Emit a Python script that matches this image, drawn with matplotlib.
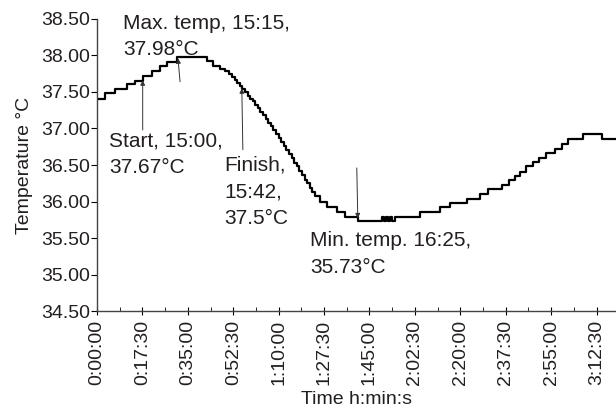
import matplotlib
matplotlib.use("Agg")
import matplotlib.pyplot as plt
from matplotlib.ticker import FuncFormatter, MultipleLocator

plt.rcParams['font.family'] = ['Liberation Sans', 'DejaVu Sans']

# ---- dados (minutos desde o inicio, temperatura em C) ----
tempo_min = [
    0.0, 3.0, 6.9, 11.5, 14.6, 17.7, 21.2, 24.3, 27.0, 30.8,
    42.4, 44.7, 47.4, 49.3, 51.0, 52.0, 53.0, 54.0, 55.0, 56.0,
    57.0, 58.0, 59.0, 60.0, 61.0, 62.0, 63.0, 64.0, 65.0, 66.0,
    67.0, 68.0, 69.0, 70.0, 71.0, 72.0, 73.0, 74.0, 75.0, 76.0,
    77.0, 78.0, 79.0, 80.0, 81.0, 82.0, 83.0, 83.9, 85.9, 88.6,
    92.4, 95.5, 100.5, 109.7, 110.5, 111.3, 112.0, 112.8, 113.5, 114.7,
    124.4, 132.1, 135.9, 142.5, 147.5, 150.6, 155.9, 158.6, 161.0, 162.9,
    165.2, 167.9, 170.2, 172.9, 176.4, 179.1, 181.4, 187.1, 194.5, 200.0,
]
temperatura = [
    37.41, 37.48, 37.54, 37.61, 37.65, 37.72, 37.79, 37.85, 37.91, 37.98,
    37.92, 37.86, 37.82, 37.79, 37.74, 37.70, 37.66, 37.62, 37.58, 37.54,
    37.50, 37.45, 37.41, 37.37, 37.32, 37.28, 37.23, 37.18, 37.13, 37.08,
    37.03, 36.98, 36.93, 36.87, 36.82, 36.76, 36.70, 36.65, 36.59, 36.53,
    36.48, 36.42, 36.36, 36.30, 36.25, 36.19, 36.13, 36.07, 36.00, 35.93,
    35.86, 35.79, 35.74, 35.79, 35.74, 35.79, 35.74, 35.79, 35.74, 35.79,
    35.86, 35.92, 35.98, 36.04, 36.10, 36.17, 36.23, 36.29, 36.35, 36.41,
    36.48, 36.54, 36.60, 36.66, 36.72, 36.79, 36.85, 36.92, 36.85, 36.85,
]

# anotacoes: texto, posicao do texto, inicio e fim da seta
textos = [
    "Max. temp, 15:15,\n37.98°C",
    "Start, 15:00,\n37.67°C",
    "Finish,\n15:42,\n37.5°C",
    "Min. temp. 16:25,\n35.73°C",
]
pos_texto = [(10.0, 38.57), (4.6, 36.96), (48.9, 36.63), (82.0, 35.59)]
seta_de = [(32.0, 37.64), (17.6, 36.98), (56.2, 36.71), (100.1, 36.46)]
seta_para = [(31.2, 37.96), (17.6, 37.66), (55.8, 37.55), (100.5, 35.77)]

cor_texto = "#231f20"
tamanho = 14


def formato_tempo(x, pos):
    total = int(round(x * 60))
    h = total // 3600
    m = (total % 3600) // 60
    s = total % 60
    return f"{h}:{m:02d}:{s:02d}"


fig = plt.figure(figsize=(6.16, 4.12), dpi=100)
ax = fig.add_axes([0.1575, 0.245, 0.8425, 0.709])

ax.plot(tempo_min, temperatura, drawstyle="steps-post",
        color="black", lw=1.6)

for txt, p, a, b in zip(textos, pos_texto, seta_de, seta_para):
    ax.text(p[0], p[1], txt, fontsize=15, color=cor_texto,
            ha="left", va="top", linespacing=1.5, clip_on=False)
    ax.annotate("", xy=b, xytext=a,
                arrowprops=dict(arrowstyle="-|>", lw=0.7, color="#333333",
                                mutation_scale=7, shrinkA=0, shrinkB=0))

ax.set_xlim(0, 200)
ax.set_ylim(34.5, 38.5)

ax.xaxis.set_major_locator(MultipleLocator(17.5))
ax.xaxis.set_minor_locator(MultipleLocator(8.75))
ax.xaxis.set_major_formatter(FuncFormatter(formato_tempo))
ax.yaxis.set_major_locator(MultipleLocator(0.5))
ax.yaxis.set_major_formatter(FuncFormatter(lambda v, p: f"{v:.2f}"))

ax.tick_params(axis="x", which="major", direction="inout", length=6,
               labelrotation=90, labelsize=tamanho, labelcolor=cor_texto)
ax.tick_params(axis="x", which="minor", direction="in", length=3)
ax.tick_params(axis="y", direction="out", length=4,
               labelsize=tamanho, labelcolor=cor_texto, pad=1)

for lado in ["top", "right"]:
    ax.spines[lado].set_visible(False)
for lado in ["left", "bottom"]:
    ax.spines[lado].set_linewidth(1.0)
    ax.spines[lado].set_color("#444444")

ax.set_xlabel("Time h:min:s", fontsize=tamanho, color=cor_texto, labelpad=4)
ax.set_ylabel("Temperature °C", fontsize=tamanho, color=cor_texto, labelpad=6)

fig.savefig("out.png", dpi=100)
